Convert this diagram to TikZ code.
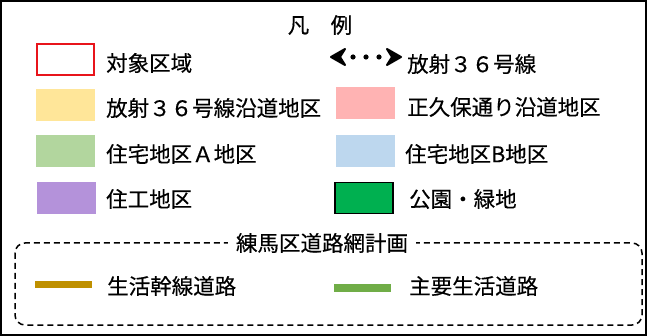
\documentclass[tikz,border=0pt]{standalone}
\usepackage{fontspec}
\setmainfont{Noto Sans CJK JP}[FakeBold=0.4]
\definecolor{cyellow}{HTML}{FFE699}
\definecolor{cpink}{HTML}{FFB3B3}
\definecolor{cgreenA}{HTML}{B2D69E}
\definecolor{cblue}{HTML}{BDD7EE}
\definecolor{cpurple}{HTML}{B492DA}
\definecolor{cpark}{HTML}{00B050}
\definecolor{cgold}{HTML}{BF9000}
\definecolor{cgline}{HTML}{70AD47}
\definecolor{cred}{HTML}{E8141B}
\begin{document}
\begin{tikzpicture}[x=1pt,y=-1pt,
  lbl/.style={anchor=west,inner sep=0pt,font=\fontsize{21.5}{21.5}\selectfont},
  swatch/.style={draw=none,minimum width=59pt,minimum height=32pt,inner sep=0pt},
  roadline/.style={line width=7pt},
  chevhead/.style={fill=black,draw=black,line width=2pt,line join=round}]
\useasboundingbox (0,0) rectangle (647,336);
\draw[line width=2pt] (1,1) rectangle (646,335);
% title
\node[lbl,anchor=center] (title) at (320,25) {凡　例};
% left column
\node[swatch,draw=cred,line width=2pt,minimum width=57pt,minimum height=31pt] (s1) at (65,60) {};
\node[lbl] (t1) at (106,63) {対象区域};
\node[swatch,fill=cyellow] (s2) at (65,105) {};
\node[lbl] (t2) at (106,108) {放射３６号線沿道地区};
\node[swatch,fill=cgreenA] (s3) at (65,151) {};
\node[lbl] (t3) at (106,154) {住宅地区Ａ地区};
\node[swatch,fill=cpurple] (s4) at (66,198) {};
\node[lbl] (t4) at (106,199) {住工地区};
% right column: double arrow with dots
\coordinate (a1) at (331,57);
\coordinate (a2) at (401,57);
\draw[chevhead] (a1) -- ++(14,-8) -- ++(-5,8) -- ++(5,8) -- cycle;
\draw[chevhead] (a2) -- ++(-14,-8) -- ++(5,8) -- ++(-5,8) -- cycle;
\coordinate (d1) at (353,57);
\coordinate (d2) at (366,57);
\coordinate (d3) at (379,57);
\fill (d1) circle (2.6pt) (d2) circle (2.6pt) (d3) circle (2.6pt);
\node[lbl] (t5) at (407,64) {放射３６号線};
\node[swatch,fill=cpink] (s6) at (365,103) {};
\node[lbl] (t6) at (407,107) {正久保通り沿道地区};
\node[swatch,fill=cblue] (s7) at (365,151) {};
\node[lbl] (t7) at (405,154) {住宅地区B地区};
\node[swatch,fill=cpark,draw=black,line width=1.5pt,minimum width=58pt,minimum height=31pt] (s8) at (364,198) {};
\node[lbl] (t8) at (409,199) {公園・緑地};
% road network box
\draw[line width=1.5pt,dash pattern=on 6pt off 4pt,rounded corners=10pt] (15,243) rectangle (642,325);
\node[lbl,anchor=center,fill=white,inner xsep=8pt,inner ysep=2pt] (rt) at (322,243) {練馬区道路網計画};
\coordinate (g1) at (35,284.5);
\coordinate (g2) at (92,284.5);
\draw[roadline,cgold] (g1) -- (g2);
\node[lbl] (t9) at (107,286) {生活幹線道路};
\coordinate (h1) at (334,288);
\coordinate (h2) at (391,288);
\draw[roadline,cgline] (h1) -- (h2);
\node[lbl] (t10) at (409,286) {主要生活道路};
\end{tikzpicture}
\end{document}
